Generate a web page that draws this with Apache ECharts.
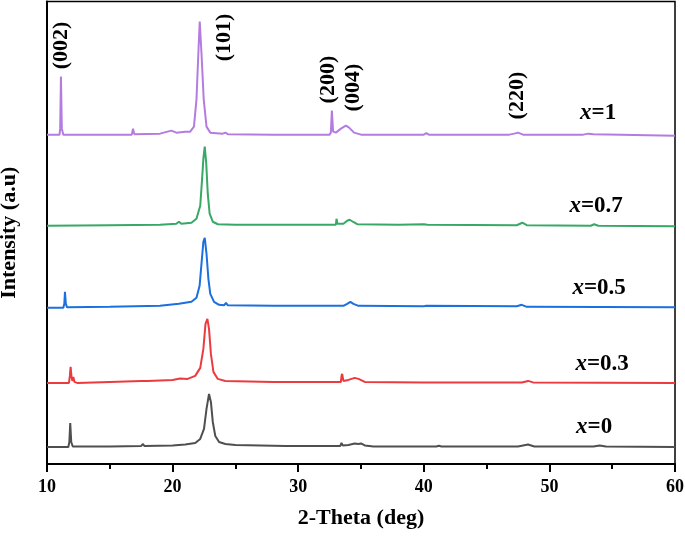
<!DOCTYPE html>
<html>
<head>
<meta charset="utf-8">
<script src="https://cdn.jsdelivr.net/npm/echarts@6/dist/echarts.min.js"></script>
<style>
html,body{margin:0;padding:0;background:#fff;}
#c{width:685px;height:538px;}
</style>
</head>
<body>
<div id="c"></div>
<script>
// ---- data (2-theta in deg, intensity in a.u., patterns stacked) ----
const xTicks = [10, 20, 30, 40, 50, 60];

const sampleNames = ['x=0', 'x=0.3', 'x=0.5', 'x=0.7', 'x=1'];

const pattern_x0 = [
  [10,17],[11.7,17],[11.78,22],[11.85,41],[11.93,22],[12.05,17.5],[15,17.5],[17.5,18],[17.62,20],[17.75,18],
  [20,18.5],[21,19.5],[21.8,21],[22.2,25],[22.5,35],[22.7,55],[22.9,70],[23.05,62],[23.2,42],[23.4,28],
  [23.7,22],[24.2,20],[25,19],[29,18],[33.35,18],[33.45,21],[33.55,18.5],[34,19],[34.5,20.5],[34.8,20],
  [35.0,20.5],[35.3,18.5],[36,17.5],[41,17.5],[41.2,18.2],[41.4,17.5],[47.5,17.5],[48.3,19.5],[48.8,17.5],
  [53.5,17.5],[54,18.5],[54.5,17.5],[60,17]
];

const pattern_x03 = [
  [10,81],[11.75,81],[11.82,88],[11.88,97],[11.95,87],[12.02,83],[12.1,87],[12.18,82],[12.4,81],[15,82],
  [17.5,83],[17.6,84],[18,83],[20,84],[20.6,85.5],[21.2,85],[21.8,88],[22.2,96],[22.45,115],[22.62,140],
  [22.77,145],[22.9,135],[23.05,110],[23.25,92],[23.6,85],[24.2,83],[28,82],[33.4,82],[33.45,88],[33.5,90],
  [33.6,83],[34,84],[34.5,86],[34.8,85],[35.3,82],[40,81.5],[47.8,81.5],[48.3,83],[48.7,81.5],[60,81]
];

const pattern_x05 = [
  [10,156],[11.3,156],[11.38,160],[11.43,172],[11.5,160],[11.6,156.5],[15,157],[19,158],[20.5,160],[21.5,162],
  [21.9,166],[22.15,178],[22.3,200],[22.45,222],[22.56,226],[22.7,210],[22.85,185],[23.0,170],[23.3,162],
  [23.7,159],[24.1,158.5],[24.25,161],[24.4,158.5],[28,158],[33.6,158],[33.9,160],[34.15,162],[34.4,160],
  [34.8,158],[40,157.5],[40.2,158],[47.4,157.5],[47.8,159],[48.2,157],[60,156.5]
];

const pattern_x07 = [
  [10,238],[15,238.5],[19,239],[20.3,240],[20.5,242],[20.7,240],[21.5,241],[21.9,245],[22.2,258],[22.35,285],
  [22.45,305],[22.56,317],[22.68,300],[22.8,270],[22.95,250],[23.2,242],[23.6,239.5],[25,239],[33.0,239],
  [33.05,245],[33.12,240],[33.6,240],[33.9,243],[34.1,244],[34.35,242],[34.7,239.5],[38,239],[40,239.5],
  [40.3,239],[47.4,238.5],[47.84,241],[48.2,238.5],[53.3,238],[53.56,239.5],[53.9,238],[60,237.5]
];

const pattern_x1 = [
  [10,329],[11.0,329],[11.05,335],[11.11,387],[11.18,335],[11.3,329],[14,329],[16.75,329],[16.85,335],
  [16.95,329.5],[19,330],[19.9,333],[20.3,331],[21.0,332],[21.4,332],[21.7,337],[21.9,364],[22.05,410],
  [22.16,442],[22.3,410],[22.48,364],[22.7,337],[23.0,331],[24,330],[24.2,331],[24.4,329.5],[28,329],
  [32.5,329],[32.6,331],[32.68,353],[32.78,332],[33.0,331],[33.4,335],[33.8,338],[34.05,336],[34.2,337],
  [34.45,331],[35,329],[40,329],[40.2,330.5],[40.4,329],[46.8,329],[47.2,330],[47.5,331],[47.9,329],
  [52.7,329],[53.1,330],[53.5,329.5],[60,328]
];

const planeLabels = ['(002)', '(101)', '(200)', '(004)', '(220)'];
const planePos = [[11.11,418],[24.15,426],[32.42,384],[34.4,376],[47.44,368]];

const sampleLabelPos = [[53.56,37],[54.2,100],[53.96,176],[53.72,258],[53.88,351]];

// ---- styles ----
const colors = ['#4f4f4f', '#ec3b3e', '#1c6fde', '#37a865', '#b47ce0'];
const FONT = '"Liberation Serif", "Times New Roman", serif';

const patterns = [pattern_x0, pattern_x03, pattern_x05, pattern_x07, pattern_x1];

const series = patterns.map((p, i) => ({
  type: 'line',
  data: p,
  showSymbol: false,
  symbol: 'none',
  smooth: false,
  lineStyle: { color: colors[i], width: 2 },
  silent: true,
  z: 3
}));

series.push({
  type: 'scatter',
  symbolSize: 0,
  silent: true,
  itemStyle: { opacity: 1 },
  data: planeLabels.map((t, i) => [planePos[i][0], planePos[i][1], t]),
  label: {
    show: true,
    position: 'inside',
    rotate: 90,
    opacity: 1,
    textBorderWidth: 0,
    fontFamily: FONT,
    fontWeight: 'bold',
    fontSize: 22,
    color: '#000',
    formatter: p => '{b|' + p.data[2] + '}',
    rich: {
      b: { fontFamily: FONT, fontWeight: 'bold', fontSize: 22, color: '#000', textBorderWidth: 0 }
    }
  },
  z: 5
});

series.push({
  type: 'scatter',
  symbolSize: 0,
  silent: true,
  itemStyle: { opacity: 1 },
  data: sampleNames.map((t, i) => [sampleLabelPos[i][0], sampleLabelPos[i][1], t]),
  label: {
    show: true,
    position: 'inside',
    opacity: 1,
    textBorderWidth: 0,
    formatter: p => '{i|x}{n|' + p.data[2].slice(1) + '}',
    rich: {
      i: { fontFamily: FONT, fontStyle: 'italic', fontWeight: 'bold', fontSize: 23, color: '#000', textBorderWidth: 0 },
      n: { fontFamily: FONT, fontWeight: 'bold', fontSize: 23, color: '#000', textBorderWidth: 0 }
    }
  },
  z: 5
});

const chart = echarts.init(document.getElementById('c'), null, { renderer: 'canvas' });
chart.setOption({
  backgroundColor: '#fff',
  animation: false,
  grid: {
    left: 47, right: 10, top: 1.5, bottom: 74,
    outerBoundsMode: 'none',
    containLabel: false,
    show: true, borderColor: '#000', borderWidth: 1.5, backgroundColor: 'transparent'
  },
  xAxis: {
    type: 'value',
    min: xTicks[0],
    max: xTicks[xTicks.length - 1],
    interval: 10,
    name: '2-Theta (deg)',
    nameLocation: 'middle',
    nameGap: 43,
    nameTextStyle: { fontFamily: FONT, fontWeight: 'bold', fontSize: 22, color: '#000' },
    axisLine: { show: true, lineStyle: { color: '#000', width: 2 } },
    axisTick: { show: true, inside: false, length: 8, lineStyle: { color: '#000', width: 2 } },
    minorTick: { show: true, splitNumber: 2, length: 5, lineStyle: { color: '#000', width: 2 } },
    axisLabel: { margin: 14, fontFamily: FONT, fontWeight: 'bold', fontSize: 18, color: '#000' },
    splitLine: { show: false },
    minorSplitLine: { show: false }
  },
  yAxis: {
    type: 'value',
    min: 0,
    max: 462,
    name: 'Intensity (a.u)',
    nameLocation: 'middle',
    nameGap: 27,
    nameTextStyle: { fontFamily: FONT, fontWeight: 'bold', fontSize: 22, color: '#000' },
    axisLine: { show: true, lineStyle: { color: '#000', width: 2 } },
    axisTick: { show: false },
    axisLabel: { show: false },
    splitLine: { show: false }
  },
  series: series
});
</script>
</body>
</html>
